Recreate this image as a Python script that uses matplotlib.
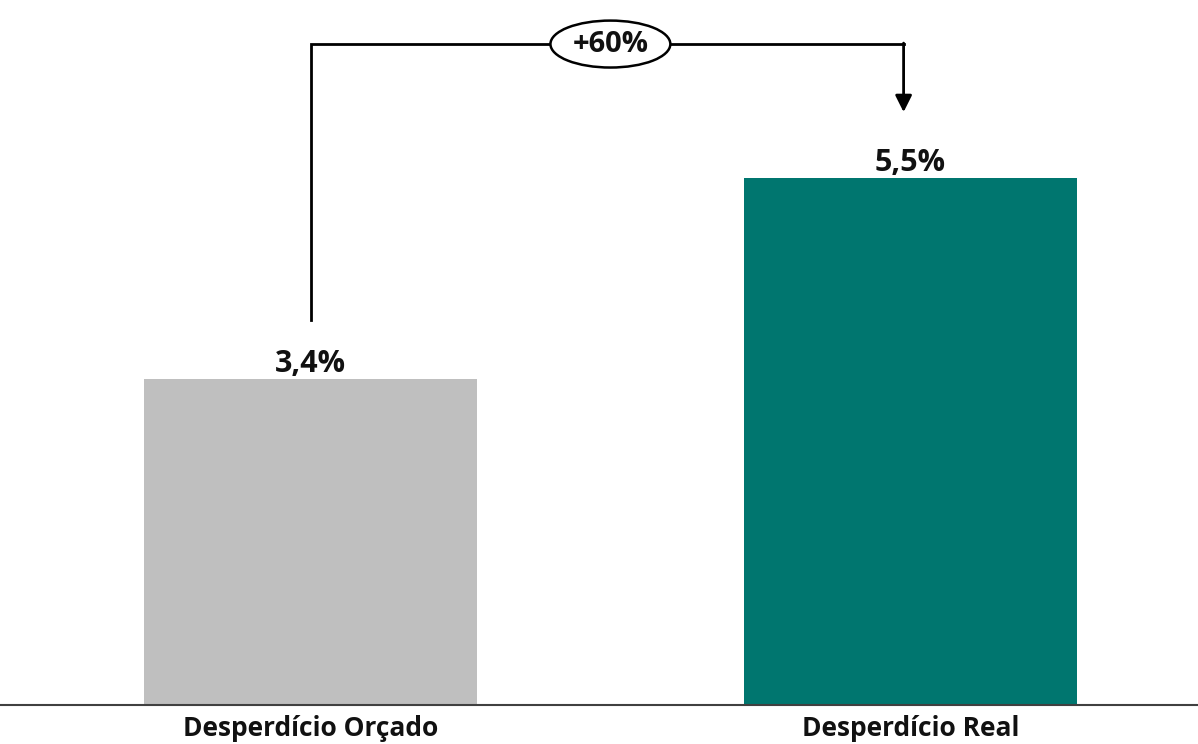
import matplotlib.pyplot as plt
from matplotlib.patches import Ellipse

plt.rcParams['font.family'] = ['Open Sans', 'DejaVu Sans']

categories = ['Desperdício Orçado', 'Desperdício Real']
values = [3.4, 5.5]
value_labels = ['3,4%', '5,5%']
bar_colors = ['#BFBFBF', '#00766F']
change_label = '+60%'

fig = plt.figure(figsize=(11.98, 7.44), dpi=100)
ax = fig.add_axes([0, 39 / 744, 1, 705 / 744])

x = [0, 1]
ax.bar(x, values, width=0.555, color=bar_colors, zorder=2)

for xi, v, lab in zip(x, values, value_labels):
    ax.text(xi, v + 0.0, lab, ha='center', va='bottom',
            fontsize=22, fontweight='bold', color='#111111')

# elbow connector from the first bar to the second
y_top = values[1] + 1.40
x_end = x[1] - 0.011
ax.plot([x[0], x[0], x_end], [values[0] + 0.62, y_top, y_top],
        color='black', lw=2, zorder=3, solid_joinstyle='miter')
ax.annotate('', xy=(x_end, values[1] + 0.69), xytext=(x_end, y_top + 0.01),
            arrowprops=dict(arrowstyle='-|>,head_length=1.0,head_width=0.5',
                            color='black', lw=2, shrinkA=0, shrinkB=0), zorder=3)

mid = (x[0] + x[1]) / 2
ax.add_patch(Ellipse((mid, y_top), 0.2, 0.49, facecolor='white',
                     edgecolor='black', lw=1.8, zorder=4))
ax.text(mid, y_top + 0.03, change_label, ha='center', va='center_baseline',
        fontsize=21, fontweight='bold', color='#111111', zorder=5)

ax.set_xlim(-0.518, 1.480)
ax.set_ylim(0, 7.36)
ax.set_xticks(x)
ax.set_xticklabels(categories, fontsize=19, fontweight='bold', color='#111111')
ax.tick_params(axis='x', length=0, pad=7)
ax.set_yticks([])
for side in ['left', 'right', 'top']:
    ax.spines[side].set_visible(False)
ax.spines['bottom'].set_color('#404040')
ax.spines['bottom'].set_linewidth(1.5)

fig.savefig('out.png', dpi=100, facecolor='white')
